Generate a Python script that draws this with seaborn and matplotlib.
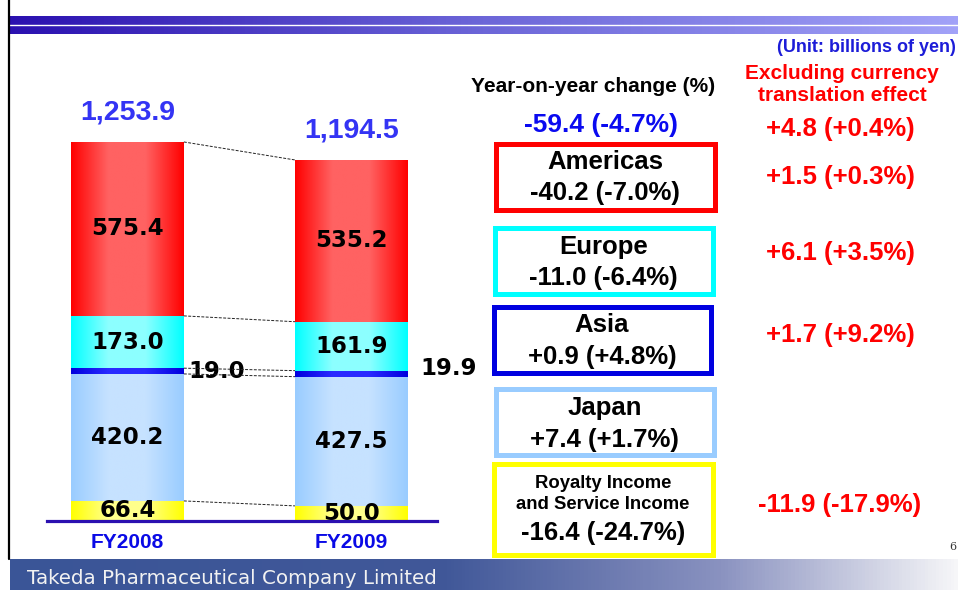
import numpy as np
import pandas as pd
import matplotlib
matplotlib.use("Agg")
import matplotlib.pyplot as plt
import seaborn as sns
from matplotlib.colors import LinearSegmentedColormap
from matplotlib.patches import Rectangle
from matplotlib.lines import Line2D

# sales by region, billions of yen (stack order: bottom -> top)
years = ["FY2008", "FY2009"]
segments = ["Royalty", "Japan", "Asia", "Europe", "Americas"]
fy2008 = [66.4, 420.2, 19.0, 173.0, 575.4]
fy2009 = [50.0, 427.5, 19.9, 161.9, 535.2]
totals = [1253.9, 1194.5]
seg_colors = ["#ffff00", "#99ccff", "#0000dd", "#00ffff", "#ff0000"]
seg_light = ["#ffff8c", "#c6e2ff", "#2a2aff", "#8cffff", "#ff6262"]

# right-hand table, top -> bottom
box_titles = ["Americas", "Europe", "Asia", "Japan", "Royalty Income\nand Service Income"]
box_colors = ["#ff0000", "#00ffff", "#0000e0", "#99ccff", "#ffff00"]
yoy_change = [-40.2, -11.0, 0.9, 7.4, -16.4]
yoy_pct = [-7.0, -6.4, 4.8, 1.7, -24.7]
excl_change = [1.5, 6.1, 1.7, None, -11.9]
excl_pct = [0.3, 3.5, 9.2, None, -17.9]
total_change, total_pct = -59.4, -4.7
total_excl_change, total_excl_pct = 4.8, 0.4

W, H = 958, 590


def fx(x):
    return x / W


def fy(y):
    return 1 - y / H


def fmt(v, p):
    return f"{v:+.1f} ({p:+.1f}%)"


sns.set_style("white")
fig = plt.figure(figsize=(W / 100, H / 100), dpi=100)
fig.patch.set_facecolor("white")

# ---- top band ----
ax_top = fig.add_axes([fx(8), fy(34), 1 - fx(8), 18 / H])
grad = np.linspace(0, 1, 256)[None, :]
top_cmap = LinearSegmentedColormap.from_list("top", ["#2a10b0", "#6c66d8", "#a2a2f8"])
ax_top.imshow(grad, cmap=top_cmap, aspect="auto", extent=[0, 1, 0, 1])
ax_top.axhline(0.5, color="white", lw=1)
ax_top.set_axis_off()

# ---- bottom band ----
ax_bot = fig.add_axes([fx(10), 0, 1 - fx(10), 31 / H])
bot_cmap = LinearSegmentedColormap.from_list(
    "bot", [(0, "#3a5597"), (0.46, "#415899"), (0.75, "#8a92c0"), (1, "#f6f6f8")])
ax_bot.imshow(grad, cmap=bot_cmap, aspect="auto", extent=[0, 1, 0, 1])
ax_bot.set_axis_off()
fig.text(fx(27), fy(578), "Takeda Pharmaceutical Company Limited", color="#f2f2f2",
         fontsize=14.3, family="DejaVu Sans", va="center", ha="left")
fig.text(fx(953), fy(547), "6", fontsize=8, family="DejaVu Serif", color="#333333",
         ha="center", va="center")

# left rule
fig.add_artist(Line2D([fx(8.5), fx(8.5)], [fy(559), 1], color="black", lw=1.6,
                      transform=fig.transFigure))

# ---- stacked bars ----
ax = fig.add_axes([fx(47), fy(521), fx(437) - fx(47), 481 / H])
bar_w = 0.504
df = pd.DataFrame({
    "year": np.repeat(years, len(segments)),
    "segment": segments * 2,
    "value": fy2008 + fy2009,
})
bottoms = np.zeros(len(years))
bounds = []
for seg, c, cl in zip(segments, seg_colors, seg_light):
    sub = df[df["segment"] == seg]
    n0 = len(ax.patches)
    sns.barplot(data=sub, x="year", y="value", order=years, color=c, saturation=1,
                width=bar_w, bottom=bottoms, errorbar=None, linewidth=0,
                edgecolor="none", ax=ax, zorder=2)
    cmap = LinearSegmentedColormap.from_list(
        seg, [(0, c), (0.33, cl), (0.66, cl), (1, c)])
    for p in ax.patches[n0:]:
        x0, y0, w, h = p.get_x(), p.get_y(), p.get_width(), p.get_height()
        ax.imshow(grad, cmap=cmap, aspect="auto", extent=[x0, x0 + w, y0, y0 + h],
                  interpolation="bilinear", zorder=2.5, clip_path=p)
    vals = sub.set_index("year").loc[years, "value"].to_numpy()
    mids = bottoms + vals / 2
    for i, (v, m) in enumerate(zip(vals, mids)):
        if seg == "Asia":
            off = [(3, 0), (9, 4)][i]
            ax.annotate(f"{v:.1f}", (i + bar_w / 2, m), xytext=off,
                        textcoords="offset points", ha="left", va="center",
                        fontsize=16.5, fontweight="bold", family="DejaVu Sans",
                        color="black", zorder=3)
        else:
            ax.text(i, m, f"{v:.1f}", ha="center", va="center", fontsize=16.5,
                    fontweight="bold", family="DejaVu Sans", color="black", zorder=4)
    bottoms = bottoms + vals
    bounds.append(bottoms.copy())

# dashed connectors between the segment boundaries
for b in bounds:
    ax.plot([bar_w / 2, 1 - bar_w / 2], b, color="#222222", lw=0.7,
            ls=(0, (3, 1.5)), zorder=5)

# totals
for i, t in enumerate(totals):
    ax.annotate(f"{t:,.1f}", (i, t), xytext=(0, 21), textcoords="offset points",
                ha="center", va="center", fontsize=20.5, fontweight="bold",
                family="Liberation Sans", color="#3434f4")

ax.set_xlim(-0.359, 1.382)
ax.set_ylim(0, 481 / 0.30226)
ax.set_xlabel("")
ax.set_ylabel("")
ax.set_yticks([])
ax.set_facecolor("none")
for s in ["top", "left", "right"]:
    ax.spines[s].set_visible(False)
ax.spines["bottom"].set_color("#2b10b0")
ax.spines["bottom"].set_linewidth(2.3)
ax.spines["bottom"].set_zorder(6)
ax.tick_params(axis="x", length=0, pad=9)
for lab in ax.get_xticklabels():
    lab.set_fontsize(15)
    lab.set_fontweight("bold")
    lab.set_family("Liberation Sans")
    lab.set_color("#0a0ae6")

# ---- right-hand panel ----
txt = dict(family="Liberation Sans", fontweight="bold", ha="center", va="center")
fig.text(fx(956), fy(47), "(Unit: billions of yen)", color="#1c1cd8", fontsize=13,
         **{**txt, "ha": "right"})
fig.text(fx(842), fy(84.5), "Excluding currency\ntranslation effect", color="#ff0000",
         fontsize=15, linespacing=1.25, **txt)
fig.text(fx(593), fy(86), "Year-on-year change (%)", color="black", fontsize=15, **txt)
fig.text(fx(601), fy(125), fmt(total_change, total_pct).replace("+", ""),
         color="#0a0af0", fontsize=19, **txt)
fig.text(fx(840), fy(129), fmt(total_excl_change, total_excl_pct), color="#ff0000",
         fontsize=18.5, **txt)

box_edges = [(493, 142, 717, 212), (492, 226, 715, 296), (491, 304, 713, 375),
             (493, 386, 716, 457), (491, 461, 715, 557)]
title_y = [162, 247, 325, 408, 494]
value_y = [193, 278, 357, 440, 533]
excl_y = [177, 253, 335, None, 505]
title_size = [18.5, 18.5, 18.5, 18.5, 13.3]
lw_px = 5
for k in range(len(box_titles)):
    x0, y0, x1, y1 = box_edges[k]
    r = lw_px / 2
    fig.add_artist(Rectangle((fx(x0 + r), fy(y1 - r)), fx(x1 - x0 - 2 * r),
                             (y1 - y0 - 2 * r) / H, transform=fig.transFigure,
                             fill=False, edgecolor=box_colors[k], lw=lw_px * 0.72))
    cx = (x0 + x1) / 2
    fig.text(fx(cx), fy(title_y[k]), box_titles[k], color="black",
             fontsize=title_size[k], linespacing=1.3, **txt)
    fig.text(fx(cx), fy(value_y[k]), fmt(yoy_change[k], yoy_pct[k]), color="black",
             fontsize=18.5, **txt)
    if excl_change[k] is not None:
        fig.text(fx(840), fy(excl_y[k]), fmt(excl_change[k], excl_pct[k]),
                 color="#ff0000", fontsize=18.5, **txt)

fig.savefig("out.png", dpi=100)
